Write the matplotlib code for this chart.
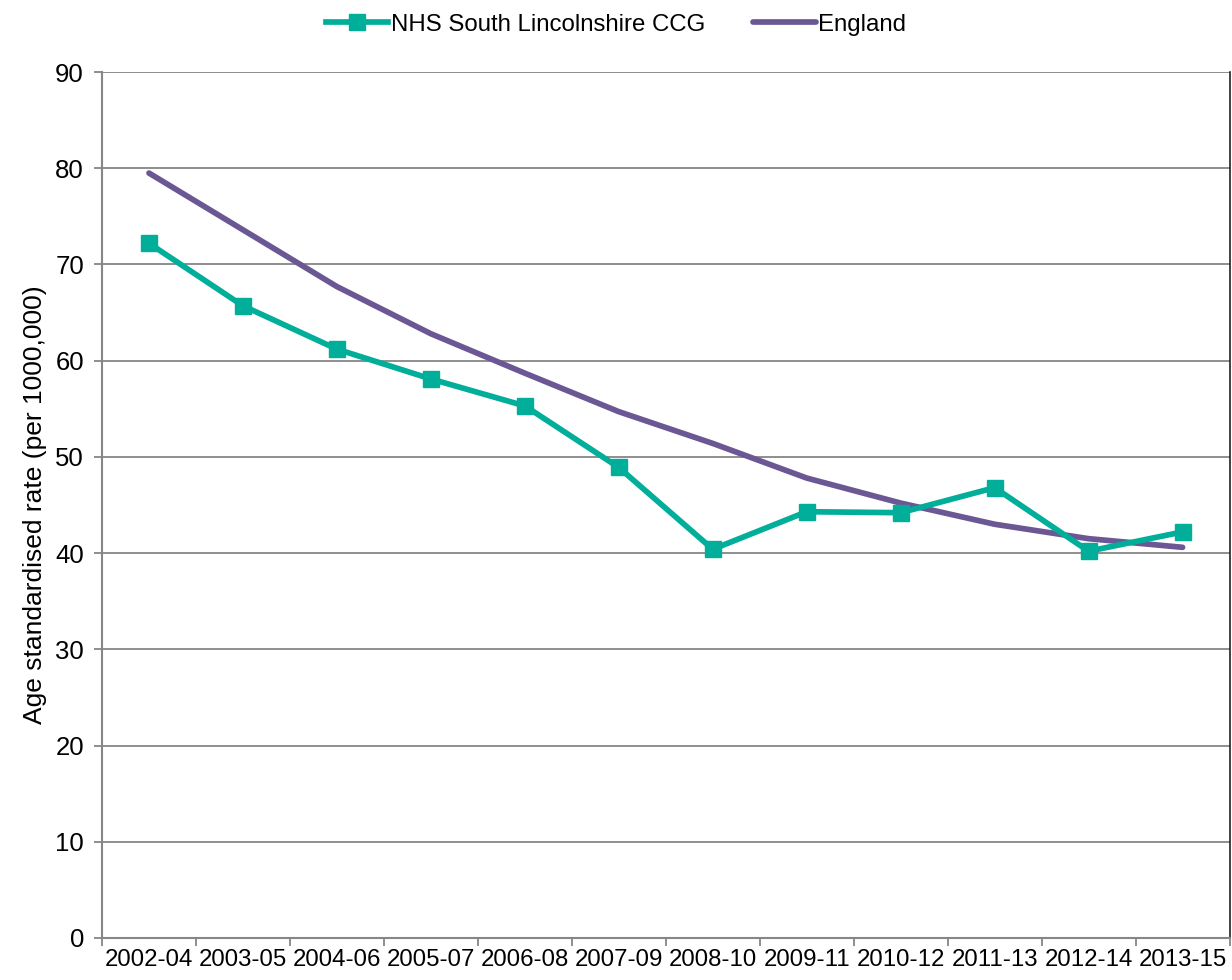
import numpy as np
import matplotlib.pyplot as plt

plt.rcParams['font.family'] = ['Liberation Sans', 'DejaVu Sans']

periods = ['2002-04', '2003-05', '2004-06', '2005-07', '2006-08', '2007-09',
           '2008-10', '2009-11', '2010-12', '2011-13', '2012-14', '2013-15']
south_lincs = [72.2, 65.7, 61.2, 58.1, 55.3, 48.9, 40.4, 44.3, 44.2, 46.8, 40.2, 42.2]
england = [79.5, 73.6, 67.7, 62.8, 58.7, 54.7, 51.4, 47.8, 45.2, 43.0, 41.5, 40.6]

teal = '#00AE9A'
purple = '#6B5793'
grey = '#868686'

fig = plt.figure(figsize=(12.32, 9.8), dpi=100)
ax = fig.add_axes([0.0828, 0.0429, 0.9152, 0.8836])

x = np.arange(len(periods))
ax.plot(x, south_lincs, color=teal, lw=4.1, marker='s', ms=11,
        label='NHS South Lincolnshire CCG', zorder=3)
ax.plot(x, england, color=purple, lw=4.1, solid_capstyle='round',
        label='England', zorder=2)

ax.set_xlim(-0.5, len(periods) - 0.5)
ax.set_ylim(0, 90)
ax.set_yticks(range(0, 91, 10))
ax.grid(axis='y', color=grey, lw=1.3)
ax.set_axisbelow(True)

# ticks at the category boundaries, labels at the centres
ax.set_xticks(np.arange(-0.5, len(periods), 1))
ax.set_xticklabels([])
ax.set_xticks(x, minor=True)
ax.set_xticklabels(periods, minor=True)
ax.tick_params(axis='x', which='minor', length=0, pad=8, labelsize=17.3)
ax.tick_params(axis='x', which='major', length=6, color=grey, width=1.3)
ax.tick_params(axis='y', length=6, color=grey, width=1.3, labelsize=18.5, pad=7)

for side in ['left', 'bottom']:
    ax.spines[side].set_color(grey)
    ax.spines[side].set_linewidth(1.5)
ax.spines['top'].set_visible(False)
ax.spines['right'].set_color('#222222')
ax.spines['right'].set_linewidth(1.2)

ax.set_ylabel('Age standardised rate (per 1000,000)', fontsize=19, labelpad=6)

fig.legend(loc='upper center', bbox_to_anchor=(0.5, 1.008), ncol=2, frameon=False,
           fontsize=17.3, handlelength=2.6, columnspacing=2.0, handletextpad=0.1)

fig.savefig('out.png', dpi=100)
